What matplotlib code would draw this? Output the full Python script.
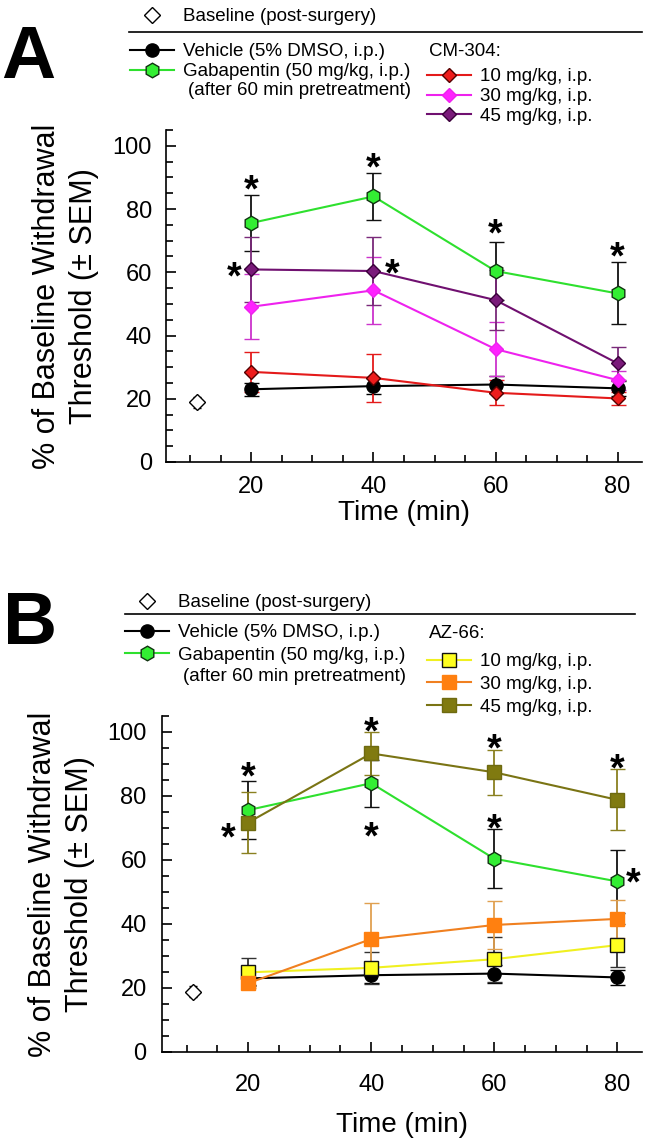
#Recreate two-panel withdrawal threshold time course (CM-304 / AZ-66)

#import modules
import matplotlib
matplotlib.use("Agg")
import matplotlib.pyplot as plt
from matplotlib.lines import Line2D
from matplotlib.ticker import MultipleLocator

plt.rcParams['font.family'] = ['Liberation Sans', 'DejaVu Sans']

#data
time = [20, 40, 60, 80]
base_x = [11]
base_y = [18.9]
base_err = [1.8]

vehicle = [23.0, 24.0, 24.5, 23.3]
vehicle_err = [2.0, 2.5, 2.8, 2.3]
gaba = [75.6, 84.0, 60.4, 53.3]
gaba_err = [9.0, 7.4, 9.3, 9.8]

#panel A: CM-304
cm_10 = [28.5, 26.6, 21.9, 20.1]
cm_10_err = [6.3, 7.6, 3.9, 2.0]
cm_30 = [49.1, 54.3, 35.7, 25.9]
cm_30_err = [10.3, 10.5, 8.6, 3.0]
cm_45 = [60.9, 60.4, 51.2, 31.2]
cm_45_err = [10.3, 10.8, 9.5, 5.2]

#panel B: AZ-66
az_10 = [24.9, 26.3, 29.0, 33.4]
az_10_err = [4.4, 5.0, 7.0, 6.7]
az_30 = [21.5, 35.3, 39.7, 41.6]
az_30_err = [1.5, 11.2, 7.5, 6.0]
az_45 = [71.7, 93.3, 87.4, 78.8]
az_45_err = [9.5, 6.7, 7.0, 9.5]

dose_labels = ['10 mg/kg, i.p.', '30 mg/kg, i.p.', '45 mg/kg, i.p.']

#significance stars (x, y)
stars_a = [(20, 89.4), (40, 96.3), (60, 75.5), (80, 68.2), (17.2, 61.9), (43.1, 62.8)]
stars_b = [(20, 89.2), (16.8, 70.1), (40, 103.2), (40, 70.4), (60, 98.0), (60, 73.0),
           (80, 91.8), (82.6, 56.3)]

W, H = 645, 1148
fig = plt.figure(figsize=(W / 100, H / 100), dpi=100)


def fx(x):
    return x / W


def fy(y):
    return 1 - y / H


def draw_panel(letter, axes_px, compound, doses, stars, lay):
    left, top, right, bottom = axes_px
    ax = fig.add_axes([fx(left), fy(bottom), fx(right - left), (bottom - top) / H])

    #baseline
    eb = ax.errorbar(base_x, base_y, yerr=base_err, fmt='D', ms=8.5, mfc='white', mec='black',
                     mew=1.0, ecolor='black', elinewidth=1.0, capsize=3)
    base_line = eb[0]
    #vehicle
    eb = ax.errorbar(time, vehicle, yerr=vehicle_err, fmt='-o', color='black', lw=1.5, ms=9.5,
                     mfc='black', mec='black', ecolor='black', elinewidth=1.3, capsize=5.4)
    veh_line = eb[0]
    #gabapentin
    eb = ax.errorbar(time, gaba, yerr=gaba_err, fmt='-h', color='#2ee02e', lw=1.5, ms=10.5,
                     mfc='#33ee33', mec='#113311', mew=1.0, ecolor='#111111', elinewidth=1.3,
                     capsize=5.4)
    gaba_line = eb[0]

    dose_lines = []
    for (vals, errs, mk, ms, lc, fc, ec, erc) in doses:
        eb = ax.errorbar(time, vals, yerr=errs, fmt='-' + mk, color=lc, lw=1.5, ms=ms, mfc=fc,
                         mec=ec, mew=1.0, ecolor=erc, elinewidth=1.3, capsize=5.4)
        dose_lines.append(eb[0])

    for sx, sy in stars:
        ax.annotate('*', xy=(sx, sy), xytext=(0, -16), textcoords='offset points',
                    ha='center', va='baseline', fontsize=27, fontweight='bold')

    #axes styling
    ax.set_xlim(6, 84)
    ax.set_ylim(0, 105)
    ax.set_xticks([20, 40, 60, 80])
    ax.set_yticks([0, 20, 40, 60, 80, 100])
    ax.xaxis.set_minor_locator(MultipleLocator(5))
    ax.yaxis.set_minor_locator(MultipleLocator(5))
    ax.spines['top'].set_visible(False)
    ax.spines['right'].set_visible(False)
    ax.spines['left'].set_linewidth(1.2)
    ax.spines['bottom'].set_linewidth(1.2)
    ax.tick_params(which='both', direction='in', width=1.2, labelsize=17)
    ax.tick_params(which='major', length=7)
    ax.tick_params(which='minor', length=5)
    ax.tick_params(axis='x', which='major', pad=lay['xpad'])
    ax.tick_params(axis='y', which='major', pad=lay['ypad'])

    ax.set_xlabel('Time (min)', fontsize=20, va='top')
    ax.xaxis.set_label_coords(0.5, lay['xlab'])
    ax.set_ylabel('% of Baseline Withdrawal\nThreshold (\u00b1 SEM)', fontsize=22,
                  linespacing=1.3)
    ax.yaxis.set_label_coords(lay['ylab'], 0.5)

    #panel letter
    fig.text(fx(lay['letter'][0]), fy(lay['letter'][1]), letter, fontsize=54,
             fontweight='bold', ha='center', va='center')

    #legends
    common = dict(loc='upper left', frameon=False, borderpad=0, borderaxespad=0,
                  handlelength=2.35, handletextpad=0.5, labelspacing=lay['lsp'],
                  fontsize=13.5, numpoints=1)
    leg0 = fig.legend([base_line], ['Baseline (post-surgery)'],
                      bbox_to_anchor=(fx(lay['left_x']), fy(lay['base_top'])), **common)
    leg1 = fig.legend([veh_line, gaba_line],
                      ['Vehicle (5% DMSO, i.p.)', 'Gabapentin (50 mg/kg, i.p.)'],
                      bbox_to_anchor=(fx(lay['left_x']), fy(lay['rows_top'])), **common)
    leg2 = fig.legend(dose_lines, dose_labels,
                      bbox_to_anchor=(fx(427), fy(lay['dose_top'])), **common)
    fig.text(fx(429), fy(lay['title_y']), compound, fontsize=13.5, ha='left', va='center')
    fig.add_artist(Line2D([fx(lay['rule'][0]), fx(lay['rule'][1])],
                          [fy(lay['rule'][2]), fy(lay['rule'][2])],
                          transform=fig.transFigure, color='black', lw=1.2))
    return leg1


#panel A
doses_a = [
    (cm_10, cm_10_err, 'D', 7.5, '#e41a1a', '#ee1c1c', '#550000', '#e41a1a'),
    (cm_30, cm_30_err, 'D', 7.5, '#ee22ee', '#ff22ff', '#ee22ee', '#cc33cc'),
    (cm_45, cm_45_err, 'D', 7.5, '#701070', '#7a1a7a', '#3a003a', '#7a2a7a'),
]
lay_a = dict(xpad=10, ypad=10, xlab=-0.114, ylab=-0.14, letter=(28, 58), lsp=0.15,
             base_top=8, rows_top=43, dose_top=68, title_y=52, left_x=130,
             rule=(129, 642, 32), after=19)
leg_a = draw_panel('A', (166, 130, 642, 462), 'CM-304:', doses_a, stars_a, lay_a)

#panel B
doses_b = [
    (az_10, az_10_err, 's', 9.5, '#f0f020', '#ffff20', '#111111', '#333333'),
    (az_30, az_30_err, 's', 9.5, '#f08020', '#ff8010', '#ff8010', '#e0a050'),
    (az_45, az_45_err, 's', 9.5, '#7a7414', '#807a10', '#6e6a10', '#8a8020'),
]
lay_b = dict(xpad=16, ypad=11, xlab=-0.18, ylab=-0.14, letter=(30, 624), lsp=0.3,
             base_top=594, rows_top=624, dose_top=653, title_y=633, left_x=125,
             rule=(125, 635, 614), after=21)
leg_b = draw_panel('B', (162, 716, 642, 1052), 'AZ-66:', doses_b, stars_b, lay_b)

#second line of gabapentin entry, right-aligned under the first
fig.canvas.draw()
for leg, lay in [(leg_a, lay_a), (leg_b, lay_b)]:
    bb = leg.get_texts()[1].get_window_extent()
    yc = (bb.y0 + bb.y1) / 2 - lay['after']
    fig.text(bb.x1 / W, yc / H, '(after 60 min pretreatment)', fontsize=13.5,
             ha='right', va='center')

#output the plot to a file
fig.savefig('out.png', dpi=100)
